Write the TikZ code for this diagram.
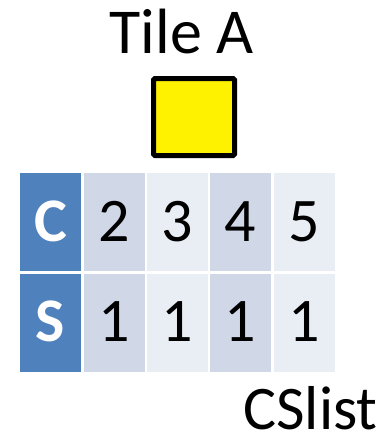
\documentclass[tikz,border=0pt]{standalone}
\usepackage{fontspec}
\setmainfont{Carlito}
\definecolor{hdrblue}{HTML}{4F81BD}
\definecolor{celldark}{HTML}{D0D8E8}
\definecolor{celllight}{HTML}{E9EDF4}
\begin{document}
\begin{tikzpicture}[x=1pt,y=-1pt,
  cellbox/.style={minimum width=61pt,minimum height=98pt,inner sep=0pt,outer sep=0pt,anchor=north west},
  hdr/.style={cellbox,fill=hdrblue},
  dark/.style={cellbox,fill=celldark},
  light/.style={cellbox,fill=celllight},
  bigtext/.style={font=\fontsize{62}{62}\selectfont,inner sep=0pt,anchor=base},
  hdrtext/.style={bigtext,font=\fontsize{62}{62}\selectfont\bfseries,text=white}]
\useasboundingbox (0,0) rectangle (385,437);
% title and tile
\node[bigtext,font=\fontsize{64}{64}\selectfont] (title) at (181.5,53) {Tile A};
\draw[line width=5pt,rounded corners=1.5pt,fill=yellow] (153.5,78.5) rectangle (234.5,155.5);
\node[inner sep=0pt] (tile) at (194,117) {};
% table cells
\foreach \r/\y in {1/173,2/274}{
  \node[hdr]   (h\r) at (20,\y) {};
  \node[dark]  (a\r) at (83.5,\y) {};
  \node[light] (b\r) at (146.5,\y) {};
  \node[dark]  (c\r) at (210,\y) {};
  \node[light] (d\r) at (274,\y) {};
}
% labels
\node[hdrtext] (cl) at (50.5,241) {C};
\node[bigtext] at (114,241) {2};
\node[bigtext] at (177,241) {3};
\node[bigtext] at (240.5,241) {4};
\node[bigtext] at (304.5,241) {5};
\node[hdrtext] (sl) at (50.5,341) {S};
\node[bigtext] at (114,341) {1};
\node[bigtext] at (177,341) {1};
\node[bigtext] at (240.5,341) {1};
\node[bigtext] at (304.5,341) {1};
\node[bigtext,anchor=base east] (cs) at (378,429) {CSlist};
\end{tikzpicture}
\end{document}
